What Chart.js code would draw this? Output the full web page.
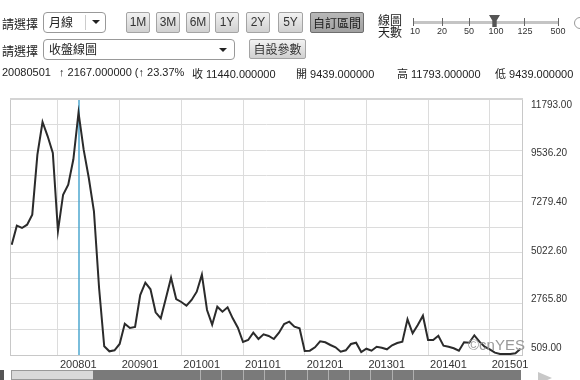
<!DOCTYPE html>
<html>
<head>
<meta charset="utf-8">
<script src="https://cdn.jsdelivr.net/npm/chart.js@4.4.0/dist/chart.umd.min.js"></script>
<style>
  body { margin:0; width:580px; height:380px; overflow:hidden; background:#fff; position:relative;
         font-family:'Liberation Sans', Arial, 'Noto Sans CJK TC', sans-serif; color:#222; }
  .a { position:absolute; white-space:nowrap; }
  .cj { font-family:'Noto Sans CJK TC', sans-serif; font-size:12px; line-height:14px; }
  .btn { position:absolute; box-sizing:border-box; height:21px; top:12px; border:1px solid #a4a4a4; border-radius:2px;
         background:linear-gradient(#f2f2f2,#d0d0d0); font-size:12px; line-height:19px; text-align:center; color:#333; }
  .btn.on { background:linear-gradient(#b8b8b8,#a0a0a0); border-color:#6e6e6e; color:#222; }
  .sel { position:absolute; box-sizing:border-box; border:1px solid #999; border-radius:4px; background:#fff; }
  .dv { position:absolute; top:2px; bottom:2px; width:1px; background:#ccc; }
  .arr { position:absolute; width:0; height:0; border-left:4px solid transparent; border-right:4px solid transparent; border-top:4px solid #222; }
  .tk { position:absolute; top:18px; width:1px; height:8px; background:#666; }
  .tl { position:absolute; top:26px; font-size:9px; color:#333; transform:translateX(-50%); }
  .info { position:absolute; top:66px; font-size:11px; color:#222; white-space:nowrap; }
  .info .cj { font-size:11px; }
  #wrap { position:absolute; left:0; top:0; width:580px; height:380px; }
</style>
</head>
<body>
<div id="wrap"><canvas id="c" width="580" height="380"></canvas></div>

<!-- 上段 -->
<div class="a cj" style="left:2px;top:17px;">請選擇</div>
<div class="sel" style="left:43px;top:12px;width:63px;height:21px;">
  <div class="a cj" style="left:5px;top:2px;">月線</div>
  <div class="dv" style="left:41px;"></div>
  <div class="arr" style="left:48px;top:7px;"></div>
</div>
<div class="btn" style="left:126px;width:24px;">1M</div>
<div class="btn" style="left:156px;width:24px;">3M</div>
<div class="btn" style="left:186px;width:24px;">6M</div>
<div class="btn" style="left:215px;width:24px;">1Y</div>
<div class="btn" style="left:246px;width:24px;">2Y</div>
<div class="btn" style="left:278px;width:25px;">5Y</div>
<div class="btn on cj" style="left:310px;width:54px;line-height:19px;">自訂區間</div>
<div class="a cj" style="left:378px;top:14px;line-height:12px;">線圖<br>天數</div>
<div class="a" style="left:413px;top:21px;width:145px;height:3px;background:#c4c4c4;"></div>
<div class="tk" style="left:413px;"></div>
<div class="tk" style="left:442px;"></div>
<div class="tk" style="left:469px;"></div>
<div class="tk" style="left:524px;"></div>
<div class="tk" style="left:558px;"></div>
<div class="a" style="left:489px;top:15px;width:11px;height:12px;background:#555;clip-path:polygon(0 0,100% 0,70% 45%,70% 100%,30% 100%,30% 45%);"></div>
<div class="tl" style="left:415px;">10</div>
<div class="tl" style="left:442px;">20</div>
<div class="tl" style="left:469px;">50</div>
<div class="tl" style="left:496px;">100</div>
<div class="tl" style="left:525px;">125</div>
<div class="tl" style="left:558px;">500</div>
<div class="a" style="left:574px;top:17px;width:10px;height:10px;border:1px solid #999;border-radius:50%;"></div>

<!-- 第二段 -->
<div class="a cj" style="left:2px;top:44px;">請選擇</div>
<div class="sel" style="left:43px;top:39px;width:192px;height:21px;">
  <div class="a cj" style="left:5px;top:2px;">收盤線圖</div>
  <div class="arr" style="left:175px;top:8px;"></div>
</div>
<div class="btn cj" style="left:249px;top:39px;width:57px;height:20px;line-height:18px;">自設參數</div>

<!-- 資訊列 -->
<div class="info" style="left:2px;">20080501</div>
<div class="info" style="left:59px;">↑ 2167.000000 (↑ 23.37%</div>
<div class="info" style="left:192px;"><span class="cj">收</span> 11440.000000</div>
<div class="info" style="left:296px;"><span class="cj">開</span> 9439.000000</div>
<div class="info" style="left:397px;"><span class="cj">高</span> 11793.000000</div>
<div class="info" style="left:495px;"><span class="cj">低</span> 9439.000000</div>

<!-- 浮水印 / 捲軸 -->
<div class="a" style="left:468px;top:336px;font-size:15px;color:#999;">©cnYES</div>
<div class="a" style="left:0;top:370px;width:4px;height:10px;background:#555;"></div>
<div class="a" style="left:11px;top:370px;width:510px;height:10px;box-sizing:border-box;border:1px solid #999;background:#d9d9d9;"></div>
<div id="thumb" class="a" style="left:93px;top:370px;width:428px;height:10px;background:#7a7a7a;"></div>
<div class="a" style="left:538px;top:372px;width:0;height:0;border-top:6px solid transparent;border-bottom:6px solid transparent;border-left:14px solid #c8c8c8;"></div>

<script>
// 200704 ～ 201507 月收盤 (100 筆)
const startMonth = '200704';
const closes = [
  5306, 6189, 6082, 6235, 6699, 9486, 11004, 10340, 9565, 5942,
  7628, 8093, 9273, 11440, 9718, 8404, 6857, 3295, 588, 356,
  402, 695, 1637, 1438, 1484, 2970, 3542, 3235, 2167, 1888,
  2817, 3774, 2785, 2645, 2473, 2738, 3124, 3913, 2274, 1591,
  2427, 2195, 2399, 1888, 1452, 788, 881, 1220, 927, 1145,
  1066, 927, 1220, 1624, 1730, 1498, 1424, 370, 384, 542,
  820, 774, 648, 542, 337, 402, 695, 755, 323, 476,
  384, 569, 523, 449, 634, 741, 802, 1842, 1192, 1577,
  2009, 881, 881, 1080, 616, 569, 495, 384, 774, 755,
  1099, 802, 569, 449, 291, 230, 230, 230, 263, 476
];
const xTickIndex = [9, 21, 33, 45, 57, 69, 81, 93];
const xTickLabels = ['200801', '200901', '201001', '201101', '201201', '201301', '201401', '201501'];
const yTicks = [509, 2765.8, 5022.6, 7279.4, 9536.2, 11793];
const cursorIndex = 13; // 20080501

// 捲軸中間的握把線
const thumb = document.getElementById('thumb');
for (let i = 0; i < 11; i++) {
  const d = document.createElement('div');
  d.style.cssText = `position:absolute;top:0;width:1px;height:10px;background:#b0b0b0;left:${107 + i * 21.3}px`;
  thumb.appendChild(d);
}

Chart.defaults.font.family = "'Liberation Sans', Arial, sans-serif";
Chart.defaults.font.size = 11;
Chart.defaults.color = '#333';

const frame = {
  id: 'frame',
  beforeDatasetsDraw(chart) {
    const { ctx, chartArea: a, scales } = chart;
    const cx = Math.round(scales.x.getPixelForValue(cursorIndex));
    ctx.save();
    ctx.strokeStyle = '#4ea7cf';
    ctx.lineWidth = 1.5;
    ctx.beginPath();
    ctx.moveTo(cx, a.top);
    ctx.lineTo(cx, a.bottom);
    ctx.stroke();
    ctx.restore();
  },
  afterDraw(chart) {
    const { ctx, chartArea: a } = chart;
    ctx.save();
    ctx.strokeStyle = '#c8c8c8';
    ctx.lineWidth = 1;
    ctx.strokeRect(a.left + 0.5, a.top + 0.5, a.right - a.left - 1, a.bottom - a.top);
    ctx.fillStyle = '#d4d4d4';
    ctx.fillRect(a.left, a.top - 1, a.right - a.left, 2);
    ctx.restore();
  }
};

new Chart(document.getElementById('c').getContext('2d'), {
  type: 'line',
  data: {
    datasets: [{
      label: startMonth,
      data: closes.map((v, i) => ({ x: i, y: v })),
      borderColor: '#2b2b2b',
      borderWidth: 2,
      pointRadius: 0,
      tension: 0,
      fill: false
    }]
  },
  options: {
    responsive: false,
    animation: false,
    layout: { padding: { left: 10, top: 99, right: 0, bottom: 0 } },
    plugins: { legend: { display: false }, tooltip: { enabled: false } },
    scales: {
      x: {
        type: 'linear',
        min: -0.33,
        max: 99.47,
        afterBuildTicks: s => { s.ticks = xTickIndex.map(v => ({ value: v })); },
        afterFit: s => { s.height = 25; },
        grid: { color: '#dcdcdc', drawTicks: false },
        border: { display: false },
        ticks: {
          align: 'start',
          labelOffset: 2,
          padding: 3,
          maxRotation: 0,
          autoSkip: false,
          callback: (v, i) => xTickLabels[i]
        }
      },
      y: {
        position: 'right',
        min: 184,
        max: 12072,
        afterBuildTicks: s => { s.ticks = yTicks.map(v => ({ value: v })); },
        afterFit: s => { s.width = 57; },
        grid: { display: false, drawTicks: false },
        border: { display: false },
        ticks: { padding: 8, autoSkip: false, font: { size: 10 }, callback: v => v.toFixed(2) }
      },
      yg: {
        position: 'left',
        min: 0,
        max: 10,
        afterFit: s => { s.width = 0; },
        grid: { color: '#dcdcdc', drawTicks: false },
        border: { display: false },
        ticks: { display: false, stepSize: 1 }
      }
    }
  },
  plugins: [frame]
});
</script>
</body>
</html>
